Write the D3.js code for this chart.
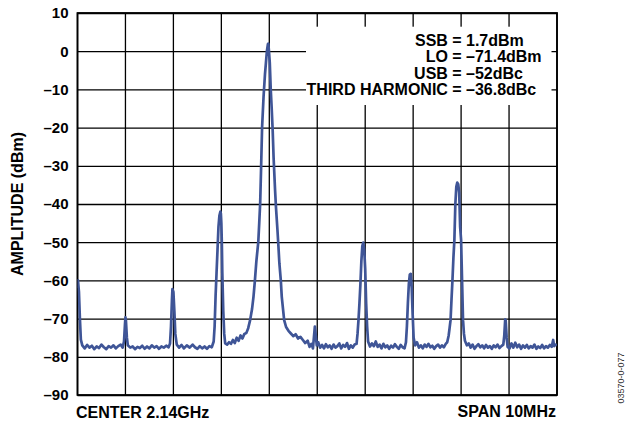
<!DOCTYPE html>
<html>
<head>
<meta charset="utf-8">
<script src="https://cdn.jsdelivr.net/npm/d3@7"></script>
<style>
  body { margin: 0; background: #fff; }
  svg { display: block; font-family: "Liberation Sans", Arial, Helvetica, sans-serif; }
</style>
</head>
<body>
<div id="chart"></div>
<script>
// spectrum analyser trace, offset from center in MHz / amplitude in dBm
const traceMHz = [
  -5.00, -4.99, -4.97, -4.95, -4.93, -4.90, -4.85, -4.80, -4.75, -4.70, -4.65, -4.60, -4.55, -4.50, -4.45, -4.40,
  -4.35, -4.30, -4.25, -4.20, -4.15, -4.10, -4.06, -4.03, -4.01, -4.00, -3.99, -3.97, -3.95, -3.90, -3.85, -3.80,
  -3.75, -3.70, -3.65, -3.60, -3.55, -3.50, -3.45, -3.40, -3.35, -3.30, -3.25, -3.20, -3.15, -3.10, -3.07, -3.05,
  -3.03, -3.02, -3.00, -2.98, -2.96, -2.93, -2.88, -2.83, -2.78, -2.72, -2.66, -2.60, -2.55, -2.50, -2.45, -2.40,
  -2.35, -2.30, -2.25, -2.20, -2.16, -2.14, -2.12, -2.10, -2.08, -2.06, -2.04, -2.02, -2.01, -2.00, -1.99, -1.98,
  -1.96, -1.94, -1.92, -1.88, -1.84, -1.80, -1.76, -1.72, -1.68, -1.64, -1.60, -1.56, -1.52, -1.48, -1.44, -1.40,
  -1.36, -1.33, -1.30, -1.27, -1.23, -1.21, -1.19, -1.17, -1.15, -1.12, -1.09, -1.07, -1.05, -1.03, -1.02, -1.01,
  -0.99, -0.97, -0.95, -0.93, -0.91, -0.88, -0.86, -0.83, -0.81, -0.79, -0.76, -0.74, -0.71, -0.69, -0.65, -0.60,
  -0.55, -0.50, -0.45, -0.40, -0.35, -0.30, -0.25, -0.20, -0.16, -0.12, -0.09, -0.07, -0.05, -0.03, -0.01, 0.02,
  0.06, 0.10, 0.14, 0.18, 0.22, 0.26, 0.30, 0.34, 0.38, 0.42, 0.46, 0.50, 0.54, 0.58, 0.62, 0.66,
  0.70, 0.74, 0.78, 0.82, 0.84, 0.86, 0.88, 0.90, 0.92, 0.94, 0.96, 0.98, 1.00, 1.02, 1.04, 1.06,
  1.10, 1.14, 1.18, 1.22, 1.26, 1.30, 1.34, 1.38, 1.42, 1.46, 1.50, 1.54, 1.58, 1.62, 1.66, 1.70,
  1.74, 1.78, 1.82, 1.85, 1.87, 1.89, 1.91, 1.93, 1.95, 1.97, 1.99, 2.01, 2.04, 2.08, 2.12, 2.16,
  2.20, 2.24, 2.28, 2.32, 2.36, 2.40, 2.44, 2.48, 2.52, 2.56, 2.60, 2.64, 2.68, 2.71, 2.74, 2.76,
  2.78, 2.80, 2.82, 2.84, 2.86, 2.88, 2.90, 2.92, 2.94, 2.96, 2.98, 3.00, 3.02, 3.04, 3.06, 3.08,
  3.12, 3.16, 3.20, 3.24, 3.28, 3.32, 3.36, 3.40, 3.44, 3.48, 3.52, 3.56, 3.60, 3.64, 3.68, 3.72,
  3.76, 3.80, 3.84, 3.88, 3.90, 3.92, 3.93, 3.95, 3.97, 4.01, 4.05, 4.09, 4.13, 4.17, 4.21, 4.25,
  4.29, 4.33, 4.37, 4.41, 4.45, 4.49, 4.53, 4.57, 4.61, 4.65, 4.69, 4.73, 4.77, 4.81, 4.85, 4.89,
  4.92, 4.94, 4.97, 5.00
];
const traceDbm = [
  -62.0, -60.0, -63.0, -70.0, -75.5, -77.0, -77.8, -76.9, -77.6, -77.1, -78.0, -77.3, -77.7, -76.8, -77.5, -78.0,
  -77.2, -77.6, -77.0, -77.8, -77.2, -76.8, -77.6, -76.0, -71.5, -69.7, -70.5, -75.0, -77.0, -77.6, -77.3, -78.0,
  -77.4, -77.7, -77.1, -77.9, -77.3, -77.8, -77.0, -77.6, -77.2, -77.9, -77.3, -77.6, -77.1, -77.5, -76.5, -72.0,
  -65.0, -62.3, -63.0, -68.0, -74.0, -76.8, -77.6, -76.9, -77.8, -77.0, -77.6, -76.8, -77.5, -77.9, -77.2, -77.8,
  -77.3, -77.9, -77.2, -77.5, -76.0, -72.0, -64.0, -58.0, -52.0, -46.0, -43.0, -42.0, -42.5, -45.0, -50.0, -58.0,
  -68.0, -74.0, -76.5, -76.8, -76.2, -76.6, -75.6, -76.4, -75.0, -75.8, -74.4, -75.2, -74.0, -73.8, -72.5, -70.4,
  -67.5, -64.3, -60.0, -55.0, -50.0, -45.0, -39.7, -30.0, -19.8, -12.0, -6.0, -3.0, 0.0, 1.8, 2.0, 0.5,
  -3.0, -10.0, -15.0, -20.6, -28.0, -36.3, -41.0, -46.8, -51.0, -55.5, -60.0, -64.3, -68.0, -70.4, -72.2, -73.2,
  -73.9, -74.6, -74.1, -75.2, -74.8, -75.6, -76.4, -75.8, -77.4, -76.6, -77.8, -75.0, -72.1, -74.5, -77.0, -76.2,
  -77.6, -76.9, -77.8, -76.7, -77.5, -77.0, -77.9, -76.8, -77.6, -77.2, -76.5, -77.8, -76.9, -77.4, -76.4, -77.9,
  -77.0, -77.6, -76.8, -76.6, -74.0, -70.4, -66.0, -61.0, -55.0, -51.0, -50.1, -52.0, -57.0, -66.0, -72.0, -76.0,
  -77.3, -76.5, -77.2, -76.0, -77.4, -76.8, -77.8, -76.6, -77.5, -77.0, -77.9, -77.1, -77.6, -76.7, -77.4, -77.9,
  -76.9, -77.5, -77.8, -76.2, -72.0, -66.0, -61.0, -58.5, -58.3, -62.0, -69.0, -75.0, -77.0, -76.2, -77.6, -77.0,
  -77.8, -76.8, -77.4, -76.6, -77.5, -77.1, -77.9, -77.2, -76.8, -77.6, -77.0, -77.5, -76.6, -76.2, -74.5, -72.5,
  -70.4, -65.0, -59.9, -54.0, -49.4, -40.0, -35.5, -34.4, -34.8, -37.0, -46.0, -49.4, -59.9, -70.4, -74.0, -75.8,
  -77.0, -76.5, -77.6, -76.8, -77.9, -77.2, -76.7, -77.5, -77.0, -77.8, -76.9, -77.6, -77.2, -77.9, -77.0, -77.5,
  -76.8, -77.7, -77.2, -76.8, -74.5, -70.2, -70.5, -75.0, -77.4, -77.8, -76.5, -77.6, -76.3, -77.5, -76.8, -77.9,
  -77.0, -77.6, -76.9, -77.8, -77.2, -77.6, -76.8, -77.9, -77.3, -77.7, -76.9, -77.8, -77.2, -77.6, -76.9, -77.4,
  -75.6, -77.2, -76.8, -77.0
];

const yTicks = [10, 0, -10, -20, -30, -40, -50, -60, -70, -80, -90];
const xGrid = [-5, -4, -3, -2, -1, 0, 1, 2, 3, 4, 5];

const annLabels = ["SSB", "LO", "USB", "THIRD HARMONIC"];
const annValues = ["1.7dBm", "\u201371.4dBm", "\u201352dBc", "\u201336.8dBc"];

const W = 627, H = 423;
const margin = { left: 77.5, top: 13, right: 70, bottom: 28 };
const width = W - margin.left - margin.right;
const height = H - margin.top - margin.bottom;

const svg = d3.select("#chart")
  .append("svg")
    .attr("width", W)
    .attr("height", H);

svg.append("rect").attr("width", W).attr("height", H).attr("fill", "#fff");

const g = svg.append("g")
  .attr("transform", "translate(" + margin.left + "," + margin.top + ")");

const x = d3.scaleLinear().domain([-5, 5]).range([0, width]);
const y = d3.scaleLinear().domain([-90, 10]).range([height, 0]);

// grid
g.selectAll(".vgrid")
  .data(xGrid)
  .enter()
  .append("line")
    .attr("x1", d => x(d)).attr("x2", d => x(d))
    .attr("y1", 0).attr("y2", height)
    .attr("stroke", "#000").attr("stroke-width", 1.3);

const yAxis = g.append("g")
  .call(d3.axisLeft(y)
    .tickValues(yTicks)
    .tickSize(-width)
    .tickPadding(9)
    .tickFormat(d => d < 0 ? "\u2013" + Math.abs(d) : d));
yAxis.select(".domain").remove();
yAxis.selectAll(".tick line").attr("stroke", "#000").attr("stroke-width", 1.3);
yAxis.selectAll(".tick text")
  .attr("fill", "#000")
  .attr("font-size", "15px")
  .attr("font-weight", "bold")
  .attr("font-family", "'Liberation Sans', Arial, sans-serif");

// frame
g.append("rect")
  .attr("width", width).attr("height", height)
  .attr("fill", "none").attr("stroke", "#000").attr("stroke-width", 1.8);

// white box behind the annotation
g.append("rect")
  .attr("x", 228.5).attr("y", 13.7)
  .attr("width", 245.5).attr("height", 78.3)
  .attr("fill", "#fff");

// trace
const pts = traceMHz.map((f, i) => [f, traceDbm[i]]);
g.append("clipPath").attr("id", "clip")
  .append("rect").attr("width", width).attr("height", height);

g.append("path")
  .datum(pts)
  .attr("clip-path", "url(#clip)")
  .attr("fill", "none")
  .attr("stroke", "#3f5597")
  .attr("stroke-width", 2.7)
  .attr("stroke-linejoin", "round")
  .attr("d", d3.line().x(d => x(d[0])).y(d => y(d[1])));

// annotation, lined up on the equals sign
const ann = g.append("g").attr("font-size", "16px").attr("font-weight", "bold");
annLabels.forEach((lab, i) => {
  const yy = 32.7 + i * 16.4;
  ann.append("text").attr("x", 384.2).attr("y", yy).attr("text-anchor", "end").text(lab + " =");
  ann.append("text").attr("x", 388.5).attr("y", yy).text(annValues[i]);
});

// labels
svg.append("text")
  .attr("transform", "translate(22.5," + (margin.top + height / 2) + ") rotate(-90)")
  .attr("text-anchor", "middle")
  .attr("font-size", "16px").attr("font-weight", "bold")
  .text("AMPLITUDE (dBm)");

svg.append("text")
  .attr("x", 76).attr("y", 417.5)
  .attr("font-size", "16px").attr("font-weight", "bold")
  .text("CENTER 2.14GHz");

svg.append("text")
  .attr("x", 556).attr("y", 416.5)
  .attr("text-anchor", "end")
  .attr("font-size", "16px").attr("font-weight", "bold")
  .text("SPAN 10MHz");

svg.append("text")
  .attr("transform", "translate(624,378) rotate(-90)")
  .attr("text-anchor", "middle")
  .attr("font-size", "9px").attr("fill", "#333")
  .text("03570-0-077");
</script>
</body>
</html>
